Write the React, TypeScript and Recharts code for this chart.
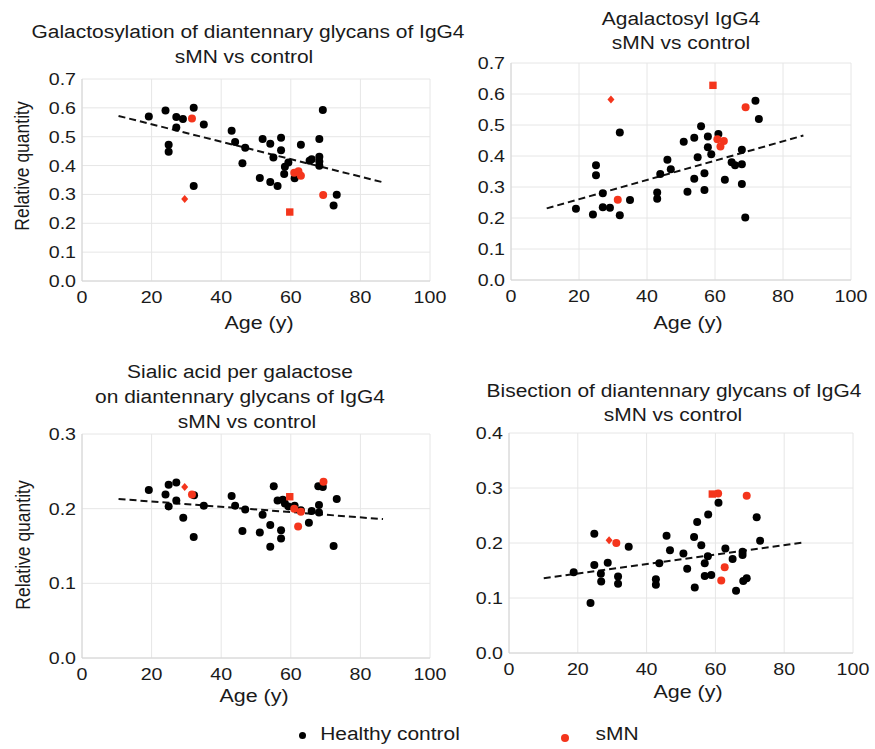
import React from "react";
import { ScatterChart, Scatter, XAxis, YAxis, CartesianGrid, ReferenceLine } from "recharts";

type Pt = [number, number];

const FONT = '"Liberation Sans", Arial, Helvetica, sans-serif';
const SX = 1.19; // the reference is stretched sideways
const RED = "#f4351c";
const INK = "#1a1a1a";

const ageTicks = [0, 20, 40, 60, 80, 100];
const ticks07 = [0, 0.1, 0.2, 0.3, 0.4, 0.5, 0.6, 0.7];
const ticks03 = [0, 0.1, 0.2, 0.3];
const ticks04 = [0, 0.1, 0.2, 0.3, 0.4];

// Galactosylation
const galHealthy: Pt[] = [
  [19.2, 0.570], [24.0, 0.591], [27.1, 0.568], [29.0, 0.561], [27.1, 0.532], [32.1, 0.600],
  [35.0, 0.542], [24.9, 0.472], [24.9, 0.448], [32.1, 0.329], [43.0, 0.521], [44.0, 0.482],
  [46.9, 0.462], [46.1, 0.408], [51.9, 0.492], [54.1, 0.476], [57.2, 0.496], [57.2, 0.453],
  [55.0, 0.428], [51.1, 0.357], [54.1, 0.343], [56.2, 0.329], [59.3, 0.411], [58.3, 0.396],
  [58.1, 0.371], [61.1, 0.356], [62.9, 0.472], [65.4, 0.417], [66.0, 0.422], [68.2, 0.492],
  [68.2, 0.431], [68.2, 0.414], [68.2, 0.399], [69.2, 0.593], [73.2, 0.299], [72.3, 0.262],
];
const galSmn: Pt[] = [[31.6, 0.563], [61.0, 0.375], [62.2, 0.380], [62.9, 0.365], [69.3, 0.298]];
const galSmnSquare: Pt[] = [[59.7, 0.239]];
const galSmnDiamond: Pt[] = [[29.5, 0.284]];
const galTrend: Pt[] = [[10.5, 0.572], [86.5, 0.342]];

// Agalactosyl
const agalHealthy: Pt[] = [
  [19.1, 0.230], [24.1, 0.211], [25.0, 0.370], [25.0, 0.338], [27.0, 0.280], [27.0, 0.235],
  [29.1, 0.233], [32.0, 0.476], [32.0, 0.209], [35.0, 0.258], [43.0, 0.282], [43.0, 0.262],
  [43.9, 0.342], [46.0, 0.388], [47.0, 0.357], [50.8, 0.446], [51.9, 0.285], [53.9, 0.459],
  [53.9, 0.327], [54.9, 0.396], [55.9, 0.496], [56.9, 0.344], [56.9, 0.290], [57.9, 0.463],
  [57.9, 0.428], [58.9, 0.406], [61.0, 0.471], [62.9, 0.323], [64.9, 0.380], [65.9, 0.370],
  [67.9, 0.420], [67.9, 0.373], [67.9, 0.310], [68.9, 0.202], [71.9, 0.578], [72.9, 0.519],
];
const agalSmn: Pt[] = [[31.4, 0.259], [60.7, 0.454], [62.6, 0.448], [61.6, 0.431], [69.0, 0.557]];
const agalSmnSquare: Pt[] = [[59.4, 0.628]];
const agalSmnDiamond: Pt[] = [[29.4, 0.582]];
const agalTrend: Pt[] = [[10.5, 0.231], [86.0, 0.466]];

// Sialic acid per galactose
const siaHealthy: Pt[] = [
  [19.2, 0.225], [24.9, 0.232], [27.1, 0.235], [24.0, 0.219], [24.9, 0.203], [27.1, 0.211],
  [29.1, 0.188], [32.2, 0.218], [32.1, 0.162], [35.0, 0.204], [43.0, 0.217], [44.0, 0.204],
  [46.9, 0.199], [46.1, 0.170], [51.1, 0.168], [51.9, 0.192], [54.1, 0.178], [54.1, 0.149],
  [55.1, 0.230], [56.2, 0.211], [57.2, 0.171], [57.2, 0.160], [57.7, 0.212], [58.3, 0.207],
  [59.3, 0.203], [61.1, 0.204], [62.9, 0.198], [65.2, 0.181], [66.0, 0.197], [68.1, 0.205],
  [68.1, 0.195], [67.9, 0.230], [69.2, 0.229], [73.2, 0.213], [72.3, 0.150],
];
const siaSmn: Pt[] = [[31.6, 0.219], [61.0, 0.200], [62.9, 0.196], [62.1, 0.176], [69.4, 0.236]];
const siaSmnSquare: Pt[] = [[59.7, 0.216]];
const siaSmnDiamond: Pt[] = [[29.5, 0.229]];
const siaTrend: Pt[] = [[10.5, 0.213], [86.5, 0.186]];

// Bisection
const bisHealthy: Pt[] = [
  [18.8, 0.147], [23.7, 0.091], [24.8, 0.217], [24.8, 0.160], [26.7, 0.144], [26.8, 0.130],
  [28.7, 0.164], [31.7, 0.139], [31.7, 0.126], [34.8, 0.193], [42.7, 0.134], [42.7, 0.124],
  [43.7, 0.163], [45.8, 0.213], [46.8, 0.187], [50.7, 0.181], [51.8, 0.153], [53.8, 0.211],
  [54.0, 0.119], [54.7, 0.238], [55.9, 0.196], [56.9, 0.163], [56.9, 0.140], [57.8, 0.176],
  [57.9, 0.252], [58.8, 0.142], [60.9, 0.273], [62.9, 0.190], [65.0, 0.171], [66.0, 0.113],
  [67.9, 0.184], [67.9, 0.178], [68.1, 0.131], [69.1, 0.136], [72.0, 0.247], [73.0, 0.204],
];
const bisSmn: Pt[] = [[31.2, 0.200], [60.8, 0.290], [62.7, 0.156], [61.7, 0.132], [69.1, 0.286]];
const bisSmnSquare: Pt[] = [[59.1, 0.289]];
const bisSmnDiamond: Pt[] = [[29.1, 0.205]];
const bisTrend: Pt[] = [[10.1, 0.136], [85.7, 0.201]];

const toPts = (a: Pt[]) => a.map(([age, value]) => ({ age, value }));

const XTick = (p: any) => (
  <text transform={`translate(${p.x},${p.y}) scale(${SX},1)`} textAnchor="middle" dy="0.71em"
    fontSize={16.5} fontFamily={FONT} fill={INK}>{p.payload.value}</text>
);
const YTick = (p: any) => (
  <text transform={`translate(${p.x},${p.y}) scale(${SX},1)`} textAnchor="end" dy="0.36em"
    fontSize={16.5} fontFamily={FONT} fill={INK}>{Number(p.payload.value).toFixed(1)}</text>
);

const blackDot = (p: any) => <circle cx={p.cx} cy={p.cy} r={4} fill="#000" />;
const redDot = (p: any) => <circle cx={p.cx} cy={p.cy} r={4} fill={RED} />;
const redSquare = (p: any) => <rect x={p.cx - 3.7} y={p.cy - 3.7} width={7.4} height={7.4} fill={RED} />;
const redDiamond = (p: any) => (
  <polygon points={`${p.cx},${p.cy - 4} ${p.cx + 3.5},${p.cy} ${p.cx},${p.cy + 4} ${p.cx - 3.5},${p.cy}`} fill={RED} />
);

function Text({ x, y, size, children, rotate }: { x: number; y: number; size: number; children: React.ReactNode; rotate?: boolean }) {
  return (
    <div style={{
      position: "absolute", left: x, top: y, whiteSpace: "nowrap", fontFamily: FONT, fontSize: size,
      color: INK, lineHeight: 1, transform: `translate(-50%, -50%) scaleX(${SX})${rotate ? " rotate(-90deg)" : ""}`,
    }}>{children}</div>
  );
}

interface PanelProps {
  box: { left: number; top: number; width: number; height: number };
  yMax: number; yTicks: number[];
  healthy: Pt[]; smn: Pt[]; square: Pt[]; diamond: Pt[]; trend: Pt[];
}

// extra room on the right so the "100" tick label is not clipped
const PAD_R = 30;

function Panel({ box, yMax, yTicks, healthy, smn, square, diamond, trend }: PanelProps) {
  return (
    <div style={{ position: "absolute", left: box.left, top: box.top }}>
      <ScatterChart width={box.width + PAD_R - 10} height={box.height} margin={{ top: 10, right: PAD_R, bottom: 0, left: 0 }}>
        <CartesianGrid stroke="#e6e6e6" />
        <XAxis type="number" dataKey="age" domain={[0, 100]} ticks={ageTicks} tick={XTick} tickLine={false}
          tickSize={0} tickMargin={10} height={30} axisLine={{ stroke: "#d4d4d4" }} />
        <YAxis type="number" dataKey="value" domain={[0, yMax]} ticks={yTicks} tick={YTick} width={52}
          tickLine={false} tickSize={0} tickMargin={6} axisLine={{ stroke: "#d4d4d4" }} />
        <ReferenceLine segment={[{ x: trend[0][0], y: trend[0][1] }, { x: trend[1][0], y: trend[1][1] }]}
          stroke="#111" strokeWidth={2} strokeDasharray="7 4" />
        <Scatter data={toPts(healthy)} shape={blackDot} isAnimationActive={false} />
        <Scatter data={toPts(smn)} shape={redDot} isAnimationActive={false} />
        <Scatter data={toPts(square)} shape={redSquare} isAnimationActive={false} />
        <Scatter data={toPts(diamond)} shape={redDiamond} isAnimationActive={false} />
      </ScatterChart>
    </div>
  );
}

export default function App() {
  return (
    <div style={{ position: "absolute", left: 0, top: 0, width: 875, height: 749, background: "#fff", overflow: "hidden" }}>
      <Text x={248} y={33} size={17.6}>Galactosylation of diantennary glycans of IgG4</Text>
      <Text x={244} y={58} size={17.6}>sMN vs control</Text>
      <Text x={681} y={20} size={17.6}>Agalactosyl IgG4</Text>
      <Text x={681} y={44} size={17.6}>sMN vs control</Text>
      <Text x={240} y={373} size={17.6}>Sialic acid per galactose</Text>
      <Text x={240} y={398} size={17.6}>on diantennary glycans of IgG4</Text>
      <Text x={247} y={423} size={17.6}>sMN vs control</Text>
      <Text x={674} y={392} size={17.6}>Bisection of diantennary glycans of IgG4</Text>
      <Text x={673} y={416} size={17.6}>sMN vs control</Text>

      <Text x={23} y={166} size={17.5} rotate>Relative quantity</Text>
      <Text x={24} y={545} size={17.5} rotate>Relative quantity</Text>
      <Text x={259} y={323} size={18}>Age (y)</Text>
      <Text x={688} y={323} size={18}>Age (y)</Text>
      <Text x={254} y={696} size={18}>Age (y)</Text>
      <Text x={688} y={692} size={18}>Age (y)</Text>

      <Panel box={{ left: 30, top: 69, width: 410, height: 242 }} yMax={0.7} yTicks={ticks07}
        healthy={galHealthy} smn={galSmn} square={galSmnSquare} diamond={galSmnDiamond} trend={galTrend} />
      <Panel box={{ left: 459, top: 53, width: 402, height: 257 }} yMax={0.7} yTicks={ticks07}
        healthy={agalHealthy} smn={agalSmn} square={agalSmnSquare} diamond={agalSmnDiamond} trend={agalTrend} />
      <Panel box={{ left: 30, top: 424, width: 410, height: 264 }} yMax={0.3} yTicks={ticks03}
        healthy={siaHealthy} smn={siaSmn} square={siaSmnSquare} diamond={siaSmnDiamond} trend={siaTrend} />
      <Panel box={{ left: 457, top: 423, width: 406, height: 260 }} yMax={0.4} yTicks={ticks04}
        healthy={bisHealthy} smn={bisSmn} square={bisSmnSquare} diamond={bisSmnDiamond} trend={bisTrend} />

      <div style={{ position: "absolute", left: 298.5, top: 731.5, width: 7, height: 7, borderRadius: "50%", background: "#000" }} />
      <Text x={390} y={735} size={17.6}>Healthy control</Text>
      <div style={{ position: "absolute", left: 561, top: 734, width: 8, height: 8, borderRadius: "50%", background: RED }} />
      <Text x={617} y={735} size={17.6}>sMN</Text>
    </div>
  );
}
